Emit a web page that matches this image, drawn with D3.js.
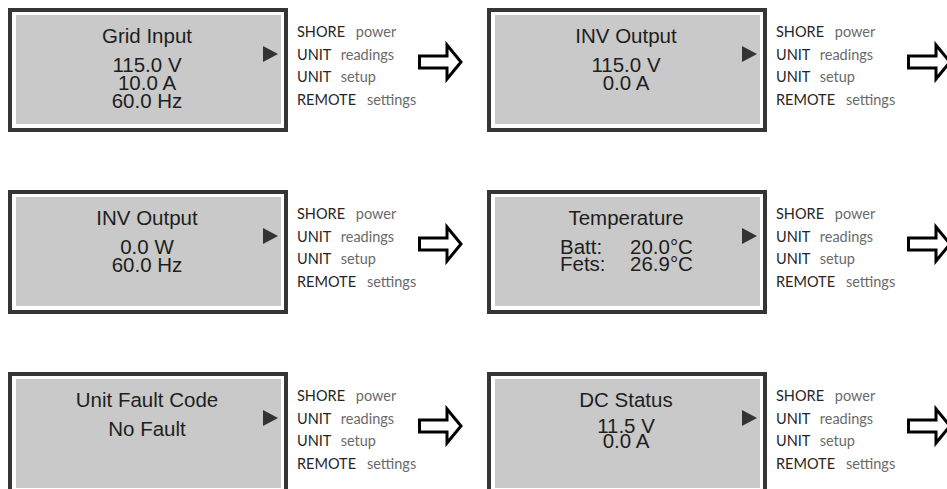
<!DOCTYPE html>
<html>
<head>
<meta charset="utf-8">
<script src="https://cdn.jsdelivr.net/npm/d3@7"></script>
<style>
  html, body { margin: 0; padding: 0; background: #fff; }
  svg { display: block; }
</style>
</head>
<body>
<svg id="chart" width="947" height="489"></svg>
<script>
// ---- data ----
const titles = ["Grid Input", "INV Output", "INV Output", "Temperature", "Unit Fault Code", "DC Status"];
const readings = [
  ["115.0 V", "10.0 A", "60.0 Hz"],
  ["115.0 V", "0.0 A"],
  ["0.0 W", "60.0 Hz"],
  [["Batt:", "20.0°C"], ["Fets:", "26.9°C"]],
  ["No Fault"],
  ["11.5 V", "0.0 A"]
];
const menuKeys = ["SHORE", "UNIT", "UNIT", "REMOTE"];
const menuWords = ["power", "readings", "setup", "settings"];

// ---- layout ----
const svg = d3.select("#chart");
const colX = d3.scaleLinear().domain([0, 1]).range([8, 487]);
const rowY = d3.scaleLinear().domain([0, 2]).range([8, 372]);
const arrowX = d3.scaleLinear().domain([0, 1]).range([418, 907]);
const lineStep = [18, 18, 18, 17, 18, 15];
const W = 280, H = 124;
const LCD_FONT = "Liberation Sans, Arial, sans-serif";

const panels = titles.map((t, i) => ({
  i, title: t, lines: readings[i],
  col: i % 2, row: Math.floor(i / 2)
}));

const g = svg.selectAll("g.panel").data(panels).join("g")
  .attr("class", "panel")
  .attr("transform", d => `translate(${colX(d.col)},${rowY(d.row)})`);

// outer frame
g.append("rect")
  .attr("x", 2).attr("y", 2)
  .attr("width", W - 4).attr("height", H - 4)
  .attr("fill", "#fff")
  .attr("stroke", "#353535").attr("stroke-width", 4);

// LCD area
g.append("rect")
  .attr("x", 8).attr("y", 7)
  .attr("width", W - 15).attr("height", 109)
  .attr("fill", "#c9c9c9");

// title
const cx = 139;
g.append("text")
  .attr("x", cx).attr("y", 35)
  .attr("text-anchor", "middle")
  .attr("font-family", LCD_FONT)
  .attr("font-size", 20.5)
  .attr("fill", "#1e1e1e")
  .text(d => d.title);

// reading lines (one text element per panel, lines as tspans)
g.each(function (d) {
  const t = d3.select(this).append("text")
    .attr("font-family", LCD_FONT)
    .attr("font-size", 20.5).attr("fill", "#1e1e1e");
  d.lines.forEach((ln, j) => {
    const y = 64 + j * lineStep[d.i] - (d.i === 5 ? 3 : 0);
    if (Array.isArray(ln)) {
      t.append("tspan").attr("x", 73).attr("y", y).text(ln[0]);
      t.append("tspan").attr("x", 143).attr("y", y).text(ln[1]);
    } else {
      t.append("tspan").attr("x", cx).attr("y", y)
        .attr("text-anchor", "middle").text(ln);
    }
  });
});

// selection triangle
g.append("path")
  .attr("d", `M${W - 25},38 L${W - 10},46 L${W - 25},54 Z`)
  .attr("fill", "#333");

// menu
const menuY = d3.scaleLinear().domain([0, 3]).range([29, 97]);
g.each(function (d) {
  const sel = d3.select(this);
  menuKeys.forEach((k, j) => {
    const t = sel.append("text")
      .attr("x", W + 9).attr("y", menuY(j))
      .attr("font-family", "Lato, 'Open Sans', sans-serif")
      .attr("font-size", 14.5);
    t.append("tspan").attr("fill", "#262626").text(k);
    t.append("tspan").attr("dx", 11).attr("fill", "#6a6a6a").text(menuWords[j]);
  });
});

// arrows
g.each(function (d) {
  const x0 = arrowX(d.col) - colX(d.col);
  const cy = 54;
  const pts = [
    [x0 + 1.5, cy - 6], [x0 + 29, cy - 6], [x0 + 29, cy - 17],
    [x0 + 43, cy], [x0 + 29, cy + 17], [x0 + 29, cy + 6], [x0 + 1.5, cy + 6]
  ];
  d3.select(this).append("path")
    .attr("d", d3.line()(pts) + "Z")
    .attr("fill", "#fff")
    .attr("stroke", "#000")
    .attr("stroke-width", 3)
    .attr("stroke-linejoin", "miter");
});
</script>
</body>
</html>
